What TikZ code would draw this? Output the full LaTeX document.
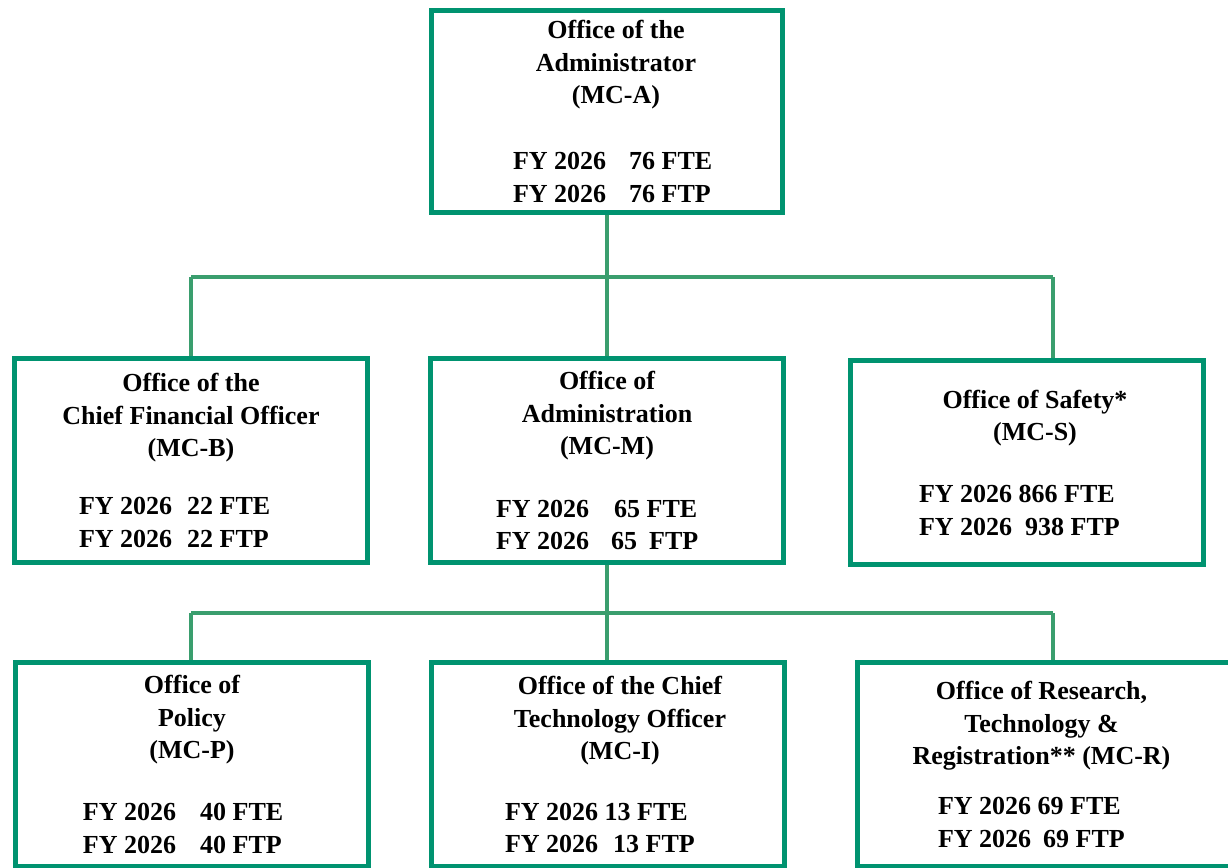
\documentclass[tikz,border=0pt]{standalone}
\usepackage{fontspec}
\setmainfont{Liberation Serif}
\usetikzlibrary{positioning}
\definecolor{boxgreen}{HTML}{009370}
\definecolor{linegreen}{HTML}{3A9E6E}
% staff lines sit flush left in a box of fixed width
\newcommand{\fy}[2]{\makebox[#1][l]{#2}}

\begin{document}
\begin{tikzpicture}[x=0.5pt,y=-0.5pt,
  office/.style={rectangle,draw=boxgreen,line width=2.5pt,minimum width=176.5pt,minimum height=102pt,
                 align=center,inner sep=0pt,font=\fontsize{13}{16.25}\selectfont\bfseries},
  orgline/.style={draw=linegreen,line width=2.1pt}]
\useasboundingbox (0,0) rectangle (1228,868);
\clip (0,0) rectangle (1228,868);

\node at (607,111.5) [office,minimum width=175.5pt,minimum height=101pt] (admin) {\rule{9pt}{0pt}Office of the\\
                                            \rule{9pt}{0pt}Administrator\\
                                            \rule{9pt}{0pt}(MC-A)\\[16.75pt]
                                            \fy{94pt}{FY 2026\hspace{11.5pt}76 FTE}\\
                                            \fy{94pt}{FY 2026\hspace{11.5pt}76 FTP}};

\node at (191,460.5) [office] (cfo) {Office of the\\
                                   Chief Financial Officer\\
                                   (MC-B)\\[12.75pt]
                                   \fy{112pt}{FY 2026\hspace{7.5pt}22 FTE}\\
                                   \fy{112pt}{FY 2026\hspace{7.5pt}22 FTP}};
\node at (607,460.5) [office] (mgmt) {Office of\\
                                    Administration\\
                                    (MC-M)\\[15pt]
                                    \fy{111pt}{FY 2026\hspace{12.5pt}65 FTE}\\
                                    \fy{111pt}{FY 2026\hspace{11pt}65\hspace{6pt}FTP}};
\node at (1026.5,462.5) [office] (safety) {\rule{8.5pt}{0pt}Office of Safety*\\
                                         \rule{8.5pt}{0pt}(MC-S)\\[14.75pt]
                                         \fy{107.5pt}{FY 2026 866 FTE}\\
                                         \fy{107.5pt}{FY 2026\hspace{6.5pt}938 FTP}};

\node at (192,764.5) [office] (policy) {Office of\\
                                      Policy\\
                                      (MC-P)\\[14.75pt]
                                      \fy{109pt}{FY 2026\hspace{12pt}40 FTE}\\
                                      \fy{109pt}{FY 2026\hspace{12pt}40 FTP}};
\node at (608,764.5) [office] (cto) {\rule{12pt}{0pt}Office of the Chief\\
                                   \rule{12pt}{0pt}Technology Officer\\
                                   \rule{12pt}{0pt}(MC-I)\\[14pt]
                                   \fy{103pt}{FY 2026 13 FTE}\\
                                   \fy{103pt}{FY 2026\hspace{7.5pt}13 FTP}};
\node at (1047.5,764.5) [office,minimum width=190pt] (research) {Office of Research,\rule{6pt}{0pt}\\
                                   Technology \&\rule{6pt}{0pt}\\
                                   Registration** (MC-R)\rule{6pt}{0pt}\\[8.75pt]
                                   \fy{109.5pt}{FY 2026 69 FTE}\\
                                   \fy{109.5pt}{FY 2026\hspace{6pt}69 FTP}};

% first level
\coordinate (hqsplit) at (607,277);
\coordinate (left1) at (191,277);
\coordinate (right1) at (1053,277);
\draw[orgline] (admin) -- (hqsplit);
\draw[orgline] (left1) -- (right1);
\draw[orgline] (left1) -- (left1 |- cfo.north);
\draw[orgline] (hqsplit) -- (hqsplit |- mgmt.north);
\draw[orgline] (right1) -- (right1 |- safety.north);

% second level
\coordinate (msplit) at (607,613);
\coordinate (left2) at (191,613);
\coordinate (right2) at (1053,613);
\draw[orgline] (mgmt) -- (msplit);
\draw[orgline] (left2) -- (right2);
\draw[orgline] (left2) -- (left2 |- policy.north);
\draw[orgline] (msplit) -- (msplit |- cto.north);
\draw[orgline] (right2) -- (right2 |- research.north);
\end{tikzpicture}
\end{document}
